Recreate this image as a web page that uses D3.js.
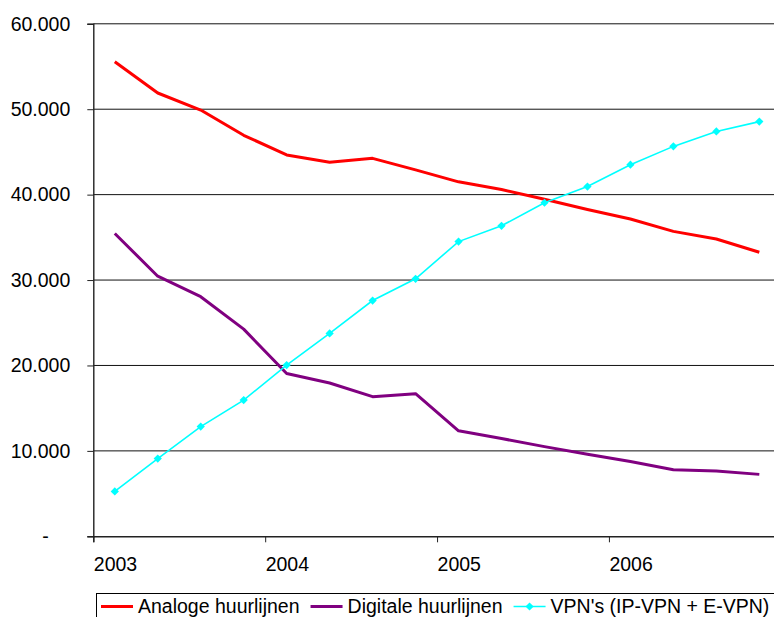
<!DOCTYPE html>
<html>
<head>
<meta charset="utf-8">
<script src="https://cdn.jsdelivr.net/npm/d3@7/dist/d3.min.js"></script>
<style>
  html, body { margin: 0; padding: 0; background: #fff; }
  svg { display: block; font-family: "Liberation Sans", Arial, sans-serif; }
</style>
</head>
<body>
<svg id="chart" width="774" height="617"></svg>
<script>
// Quarterly counts, 2003 Q1 .. 2006 Q4
const quarters = ["2003 Q1","2003 Q2","2003 Q3","2003 Q4",
                  "2004 Q1","2004 Q2","2004 Q3","2004 Q4",
                  "2005 Q1","2005 Q2","2005 Q3","2005 Q4",
                  "2006 Q1","2006 Q2","2006 Q3","2006 Q4"];
const yearLabels = ["2003", "2004", "2005", "2006"];
const seriesNames = ["Analoge huurlijnen", "Digitale huurlijnen", "VPN's (IP-VPN + E-VPN)"];
const analoge  = [55550, 51900, 49900, 46950, 44650, 43800, 44250, 42900,
                  41500, 40600, 39450, 38250, 37150, 35700, 34800, 33250];
const digitale = [35450, 30450, 28050, 24250, 19050, 17950, 16350, 16700,
                  12350, 11450, 10500, 9600, 8750, 7800, 7650, 7250];
const vpn      = [5250, 9100, 12850, 15950, 20050, 23750, 27600, 30150,
                  34500, 36350, 39050, 40950, 43500, 45650, 47400, 48550];
const yTicks = [0, 10000, 20000, 30000, 40000, 50000, 60000];

const FONT = 19.5;
const svg = d3.select("#chart");
const plotLeft = 93.3, plotRight = 780.8, plotTop = 23.8, plotBottom = 536.3;

const x = d3.scaleLinear().domain([0, quarters.length]).range([plotLeft, plotRight]);
const y = d3.scaleLinear().domain([0, 60000]).range([plotBottom, plotTop]);

const nl = d3.formatLocale({ decimal: ",", thousands: ".", grouping: [3], currency: ["€", ""] });
const fmt = nl.format(",.0f");

// horizontal gridlines
svg.append("g")
  .selectAll("line")
  .data(yTicks.filter(v => v > 0))
  .join("line")
  .attr("x1", plotLeft).attr("x2", plotRight)
  .attr("y1", d => y(d)).attr("y2", d => y(d))
  .attr("stroke", "#111").attr("stroke-width", 1);

// y axis
const yAxis = svg.append("g")
  .attr("transform", `translate(${plotLeft},0)`)
  .call(d3.axisLeft(y).tickValues(yTicks).tickSize(6).tickPadding(17)
    .tickFormat(d => d === 0 ? "" : fmt(d)));
yAxis.select(".domain").attr("stroke", "#222").attr("stroke-width", 1.4);
yAxis.selectAll(".tick line").attr("stroke", "#222");
yAxis.selectAll("text")
  .attr("font-size", FONT).attr("fill", "#000")
  .attr("font-family", "'Liberation Sans', Arial, sans-serif");
// zero is shown as a dash
svg.append("text")
  .attr("x", 45.5).attr("y", y(0) + 6.5)
  .attr("text-anchor", "middle")
  .attr("font-size", FONT)
  .text("-");

// x axis with ticks at year boundaries
const xAxis = svg.append("g")
  .attr("transform", `translate(0,${plotBottom})`)
  .call(d3.axisBottom(x).tickValues([0, 4, 8, 12, 16]).tickSize(6).tickPadding(15)
    .tickFormat((d, i) => yearLabels[i] || ""));
xAxis.select(".domain").attr("stroke", "#222").attr("stroke-width", 1.4);
xAxis.selectAll(".tick line").attr("stroke", "#222");
xAxis.selectAll("text")
  .attr("font-size", FONT).attr("fill", "#000")
  .attr("text-anchor", "start")
  .attr("font-family", "'Liberation Sans', Arial, sans-serif");

const line = d3.line()
  .x((d, i) => x(i + 0.5))
  .y(d => y(d));

svg.append("path").datum(analoge)
  .attr("d", line).attr("fill", "none")
  .attr("stroke", "#ff0000").attr("stroke-width", 3).attr("stroke-linejoin", "round");

svg.append("path").datum(digitale)
  .attr("d", line).attr("fill", "none")
  .attr("stroke", "#800080").attr("stroke-width", 3).attr("stroke-linejoin", "round");

svg.append("path").datum(vpn)
  .attr("d", line).attr("fill", "none")
  .attr("stroke", "#00ffff").attr("stroke-width", 1.6);

const diamond = d3.symbol(d3.symbolSquare, 34);
svg.append("g")
  .selectAll("path")
  .data(vpn)
  .join("path")
  .attr("d", diamond)
  .attr("transform", (d, i) => `translate(${x(i + 0.5)},${y(d)}) rotate(45)`)
  .attr("fill", "#00ffff");

// legend
const lg = svg.append("g");
lg.append("rect")
  .attr("x", 96.5).attr("y", 593.5)
  .attr("width", 700).attr("height", 40)
  .attr("fill", "#fff").attr("stroke", "#000").attr("stroke-width", 1);

const legendItems = [
  { name: seriesNames[0], color: "#ff0000", width: 3, marker: false },
  { name: seriesNames[1], color: "#800080", width: 3, marker: false },
  { name: seriesNames[2], color: "#00ffff", width: 1.6, marker: true }
];
let lx = 101;
const ly = 606.5;
legendItems.forEach(item => {
  lg.append("line")
    .attr("x1", lx).attr("x2", lx + 32)
    .attr("y1", ly).attr("y2", ly)
    .attr("stroke", item.color).attr("stroke-width", item.width);
  if (item.marker) {
    lg.append("path").attr("d", diamond)
      .attr("transform", `translate(${lx + 16},${ly}) rotate(45)`)
      .attr("fill", item.color);
  }
  const t = lg.append("text")
    .attr("x", lx + 37).attr("y", 613)
    .attr("font-size", FONT)
    .text(item.name);
  lx = lx + 37 + t.node().getComputedTextLength() + 11;
});
</script>
</body>
</html>
